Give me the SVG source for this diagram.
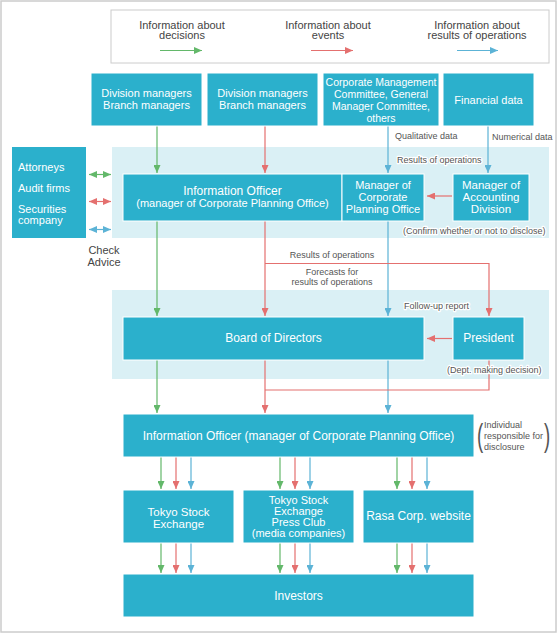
<svg xmlns="http://www.w3.org/2000/svg" width="560" height="633" viewBox="0 0 560 633">
<style>
.box{fill:#2bb0cc;stroke:#fff;stroke-width:1}
.band{fill:#daf0f5}
.bt{font-family:"Liberation Sans",Arial,sans-serif;fill:#fff;text-anchor:middle}
.bl{font-family:"Liberation Sans",Arial,sans-serif;fill:#fff;text-anchor:start;font-size:11px}
.lt{font-family:"Liberation Sans",Arial,sans-serif;fill:#444;font-size:11px;text-anchor:middle}
.sm{font-family:"Liberation Sans",Arial,sans-serif;fill:#555;font-size:9px}
.halo{paint-order:stroke;stroke:#fff;stroke-width:2.5px;stroke-linejoin:round}
.g{stroke:#63b86a;stroke-width:1.2;fill:none}
.r{stroke:#e4706f;stroke-width:1.2;fill:none}
.b{stroke:#5cb3d6;stroke-width:1.2;fill:none}
.g.a{marker-end:url(#mg)}
.r.a{marker-end:url(#mr)}
.b.a{marker-end:url(#mb)}
</style>
<defs>
<marker id="mg" viewBox="0 0 8 7" refX="8" refY="3.5" markerWidth="8" markerHeight="7" markerUnits="userSpaceOnUse" orient="auto-start-reverse"><path d="M0,0L8,3.5L0,7z" fill="#63b86a"/></marker>
<marker id="mr" viewBox="0 0 8 7" refX="8" refY="3.5" markerWidth="8" markerHeight="7" markerUnits="userSpaceOnUse" orient="auto-start-reverse"><path d="M0,0L8,3.5L0,7z" fill="#e4706f"/></marker>
<marker id="mb" viewBox="0 0 8 7" refX="8" refY="3.5" markerWidth="8" markerHeight="7" markerUnits="userSpaceOnUse" orient="auto-start-reverse"><path d="M0,0L8,3.5L0,7z" fill="#5cb3d6"/></marker>
</defs>
<rect x="1" y="1" width="555" height="631" fill="#fff" stroke="#ccc" stroke-width="1.5"/>

<g id="legend">
<rect x="111" y="10" width="438" height="53" fill="#fff" stroke="#ccc" stroke-width="1"/>
<text class="lt" x="182" y="28.5">Information about</text>
<text class="lt" x="182" y="39">decisions</text>
<line class="g a" x1="160" y1="50.5" x2="202" y2="50.5"/>
<text class="lt" x="328" y="28.5">Information about</text>
<text class="lt" x="328" y="39">events</text>
<line class="r a" x1="311" y1="50.5" x2="353" y2="50.5"/>
<text class="lt" x="477" y="28.5">Information about</text>
<text class="lt" x="477" y="39">results of operations</text>
<line class="b a" x1="457" y1="50.5" x2="498" y2="50.5"/>
</g>

<rect class="band" x="112" y="147" width="437" height="91"/>
<rect class="band" x="112" y="290" width="437" height="89"/>

<g id="connectors">
<line class="g a" x1="157" y1="126" x2="157" y2="173"/>
<line class="r a" x1="265" y1="126" x2="265" y2="173"/>
<line class="b a" x1="388" y1="126" x2="388" y2="173"/>
<line class="b a" x1="488" y1="126" x2="488" y2="173"/>
<line class="r a" x1="452" y1="196" x2="427" y2="196"/>
<line class="g" x1="89" y1="174.5" x2="111" y2="174.5" style="marker-start:url(#mg);marker-end:url(#mg)"/>
<line class="r" x1="89" y1="201.5" x2="111" y2="201.5" style="marker-start:url(#mr);marker-end:url(#mr)"/>
<line class="b" x1="89" y1="229.5" x2="111" y2="229.5" style="marker-start:url(#mb);marker-end:url(#mb)"/>
<line class="g a" x1="157" y1="221" x2="157" y2="316"/>
<line class="r a" x1="265" y1="221" x2="265" y2="316"/>
<line class="b a" x1="388" y1="221" x2="388" y2="316"/>
<polyline class="r a" points="265,263.5 489,263.5 489,316"/>
<line class="r a" x1="452" y1="338.5" x2="427" y2="338.5"/>
<line class="g a" x1="157" y1="360" x2="157" y2="413"/>
<line class="r a" x1="265" y1="360" x2="265" y2="413"/>
<line class="b a" x1="388" y1="360" x2="388" y2="413"/>
<polyline class="r" points="489,360 489,390 265,390"/>
<line class="g a" x1="161" y1="457" x2="161" y2="489"/>
<line class="r a" x1="176" y1="457" x2="176" y2="489"/>
<line class="b a" x1="191" y1="457" x2="191" y2="489"/>
<line class="g a" x1="280" y1="457" x2="280" y2="489"/>
<line class="r a" x1="295" y1="457" x2="295" y2="489"/>
<line class="b a" x1="310" y1="457" x2="310" y2="489"/>
<line class="g a" x1="397" y1="457" x2="397" y2="489"/>
<line class="r a" x1="412" y1="457" x2="412" y2="489"/>
<line class="b a" x1="427" y1="457" x2="427" y2="489"/>
<line class="g a" x1="161" y1="543" x2="161" y2="573"/>
<line class="r a" x1="176" y1="543" x2="176" y2="573"/>
<line class="b a" x1="191" y1="543" x2="191" y2="573"/>
<line class="g a" x1="280" y1="543" x2="280" y2="573"/>
<line class="r a" x1="295" y1="543" x2="295" y2="573"/>
<line class="b a" x1="310" y1="543" x2="310" y2="573"/>
<line class="g a" x1="397" y1="543" x2="397" y2="573"/>
<line class="r a" x1="412" y1="543" x2="412" y2="573"/>
<line class="b a" x1="427" y1="543" x2="427" y2="573"/>
</g>

<g id="labels">
<text class="sm" x="395" y="139">Qualitative data</text>
<text class="sm" x="492" y="140">Numerical data</text>
<text class="sm halo" x="397" y="163">Results of operations</text>
<text class="sm halo" x="403" y="234">(Confirm whether or not to disclose)</text>
<text class="lt" x="104" y="254">Check</text>
<text class="lt" x="104" y="265.7">Advice</text>
<text class="sm" x="332" y="258" text-anchor="middle">Results of operations</text>
<text class="sm" x="332" y="275" text-anchor="middle">Forecasts for</text>
<text class="sm" x="332" y="285" text-anchor="middle">results of operations</text>
<text class="sm halo" x="404" y="308.7">Follow-up report</text>
<text class="sm halo" x="447" y="372.7">(Dept. making decision)</text>
<text class="sm" x="484" y="428">Individual</text>
<text class="sm" x="484" y="439">responsible for</text>
<text class="sm" x="484" y="450">disclosure</text>
<text x="0" y="0" transform="translate(477,446) scale(0.6,1)" style="font-family:'Liberation Sans',Arial,sans-serif;font-size:31px;fill:#555">(</text>
<text x="0" y="0" transform="translate(544,446) scale(0.6,1)" style="font-family:'Liberation Sans',Arial,sans-serif;font-size:31px;fill:#555">)</text>
</g>

<g id="div1"><rect class="box" x="91" y="73" width="111" height="53"/>
<text class="bt" x="146.5" y="97.3" font-size="11">Division managers</text>
<text class="bt" x="146.5" y="109" font-size="11">Branch managers</text></g>
<g id="div2"><rect class="box" x="207" y="73" width="111" height="53"/>
<text class="bt" x="262.5" y="97.3" font-size="11">Division managers</text>
<text class="bt" x="262.5" y="109" font-size="11">Branch managers</text></g>
<g id="corpmgmt"><rect class="box" x="323" y="73" width="116" height="53"/>
<text class="bt" x="381" y="86" font-size="10.5">Corporate Management</text>
<text class="bt" x="381" y="98" font-size="10.5">Committee, General</text>
<text class="bt" x="381" y="110" font-size="10.5">Manager Committee,</text>
<text class="bt" x="381" y="122" font-size="10.5">others</text></g>
<g id="findata"><rect class="box" x="443" y="73" width="91" height="53"/>
<text class="bt" x="488.5" y="104" font-size="11">Financial data</text></g>

<g id="advisors"><rect x="12" y="147" width="74" height="91" fill="#2bb0cc"/>
<text class="bl" x="18" y="170.7">Attorneys</text>
<text class="bl" x="18" y="192.3">Audit firms</text>
<text class="bl" x="18" y="213.3">Securities</text>
<text class="bl" x="18" y="224.3">company</text></g>

<g id="infoofficer1"><rect class="box" x="123" y="174" width="219" height="47"/>
<text class="bt" x="232.5" y="195" font-size="12">Information Officer</text>
<text class="bt" x="232.5" y="207" font-size="11">(manager of Corporate Planning Office)</text></g>
<g id="mcpo"><rect class="box" x="342" y="174" width="82" height="47"/>
<text class="bt" x="383" y="189.3" font-size="11">Manager of</text>
<text class="bt" x="383" y="201.3" font-size="11">Corporate</text>
<text class="bt" x="383" y="213.3" font-size="11">Planning Office</text></g>
<g id="mad"><rect class="box" x="453" y="174" width="76" height="47"/>
<text class="bt" x="491" y="189" font-size="11.5">Manager of</text>
<text class="bt" x="491" y="201" font-size="11.5">Accounting</text>
<text class="bt" x="491" y="213" font-size="11.5">Division</text></g>

<g id="board"><rect class="box" x="123" y="317" width="301" height="43"/>
<text class="bt" x="273.5" y="342" font-size="12">Board of Directors</text></g>
<g id="president"><rect class="box" x="453" y="317" width="71" height="43"/>
<text class="bt" x="488.5" y="342.3" font-size="12">President</text></g>

<g id="infoofficer2"><rect class="box" x="123" y="414" width="351" height="43"/>
<text class="bt" x="298.5" y="440" font-size="12">Information Officer (manager of Corporate Planning Office)</text></g>

<g id="tse"><rect class="box" x="123" y="490" width="111" height="53"/>
<text class="bt" x="178.5" y="515.8" font-size="11.5">Tokyo Stock</text>
<text class="bt" x="178.5" y="528" font-size="11.5">Exchange</text></g>
<g id="pressclub"><rect class="box" x="243" y="490" width="111" height="53"/>
<text class="bt" x="298.5" y="504" font-size="11">Tokyo Stock</text>
<text class="bt" x="298.5" y="515" font-size="11">Exchange</text>
<text class="bt" x="298.5" y="526" font-size="11">Press Club</text>
<text class="bt" x="298.5" y="537" font-size="11">(media companies)</text></g>
<g id="website"><rect class="box" x="363" y="490" width="111" height="53"/>
<text class="bt" x="418.5" y="520" font-size="12">Rasa Corp. website</text></g>

<g id="investors"><rect class="box" x="123" y="574" width="351" height="43"/>
<text class="bt" x="298.5" y="600" font-size="12">Investors</text></g>
</svg>
